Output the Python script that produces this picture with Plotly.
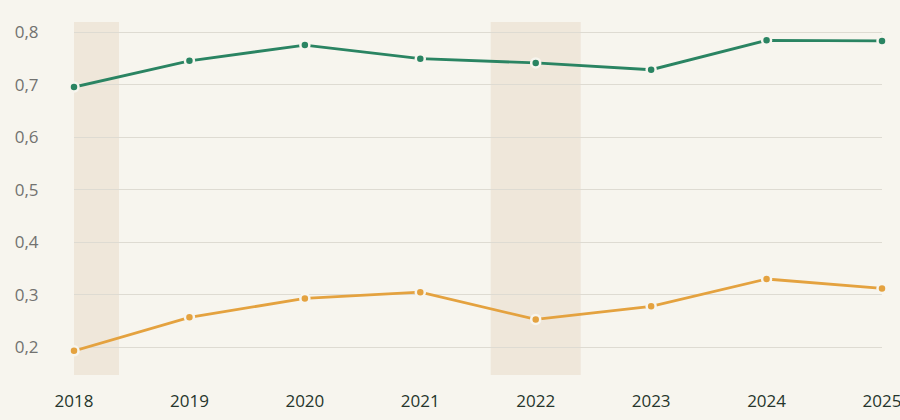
import plotly.graph_objects as go

years = [2018, 2019, 2020, 2021, 2022, 2023, 2024, 2025]
green_values = [0.696, 0.746, 0.776, 0.750, 0.742, 0.729, 0.785, 0.784]
orange_values = [0.193, 0.257, 0.293, 0.305, 0.253, 0.278, 0.330, 0.312]
highlight_years = [2018, 2022]
y_ticks = [0.2, 0.3, 0.4, 0.5, 0.6, 0.7, 0.8]
y_tick_labels = ["0,2", "0,3", "0,4", "0,5", "0,6", "0,7", "0,8"]

BG = "#f7f5ee"
GREEN = "#2a8462"
ORANGE = "#e4a23f"

fig = go.Figure()

for hy in highlight_years:
    fig.add_vrect(x0=hy - 0.39, x1=hy + 0.39, fillcolor="#efe7da", opacity=1,
                  line_width=0, layer="below")

for vals, col in [(green_values, GREEN), (orange_values, ORANGE)]:
    fig.add_trace(go.Scatter(
        x=years, y=vals, mode="lines+markers",
        line=dict(color=col, width=2.8),
        marker=dict(size=9, color=col, line=dict(color=BG, width=2.5)),
        showlegend=False, cliponaxis=False,
    ))

fig.update_layout(
    width=900, height=420,
    paper_bgcolor=BG, plot_bgcolor=BG,
    margin=dict(l=74, r=18, t=22, b=45),
    font=dict(family="Open Sans", size=17),
)
fig.update_xaxes(
    range=[2018, 2025], tickvals=years, ticktext=[str(y) for y in years],
    showgrid=False, zeroline=False, showline=False,
    tickfont=dict(color="#26352c", size=17),
    ticks="outside", ticklen=11, tickcolor="rgba(0,0,0,0)",
    ticklabeloverflow="allow", automargin=False,
)
fig.update_yaxes(
    range=[0.147, 0.82], tickvals=y_ticks, ticktext=y_tick_labels,
    showgrid=True, gridcolor="#dedbd2", gridwidth=1, zeroline=False, showline=False,
    tickfont=dict(color="#727270", size=17),
    ticks="outside", ticklen=31, tickcolor="rgba(0,0,0,0)",
    automargin=False,
)

fig.write_html("out.html", config={"displayModeBar": False},
               post_script="document.body.style.margin='0';document.body.style.background='" + BG + "';")
